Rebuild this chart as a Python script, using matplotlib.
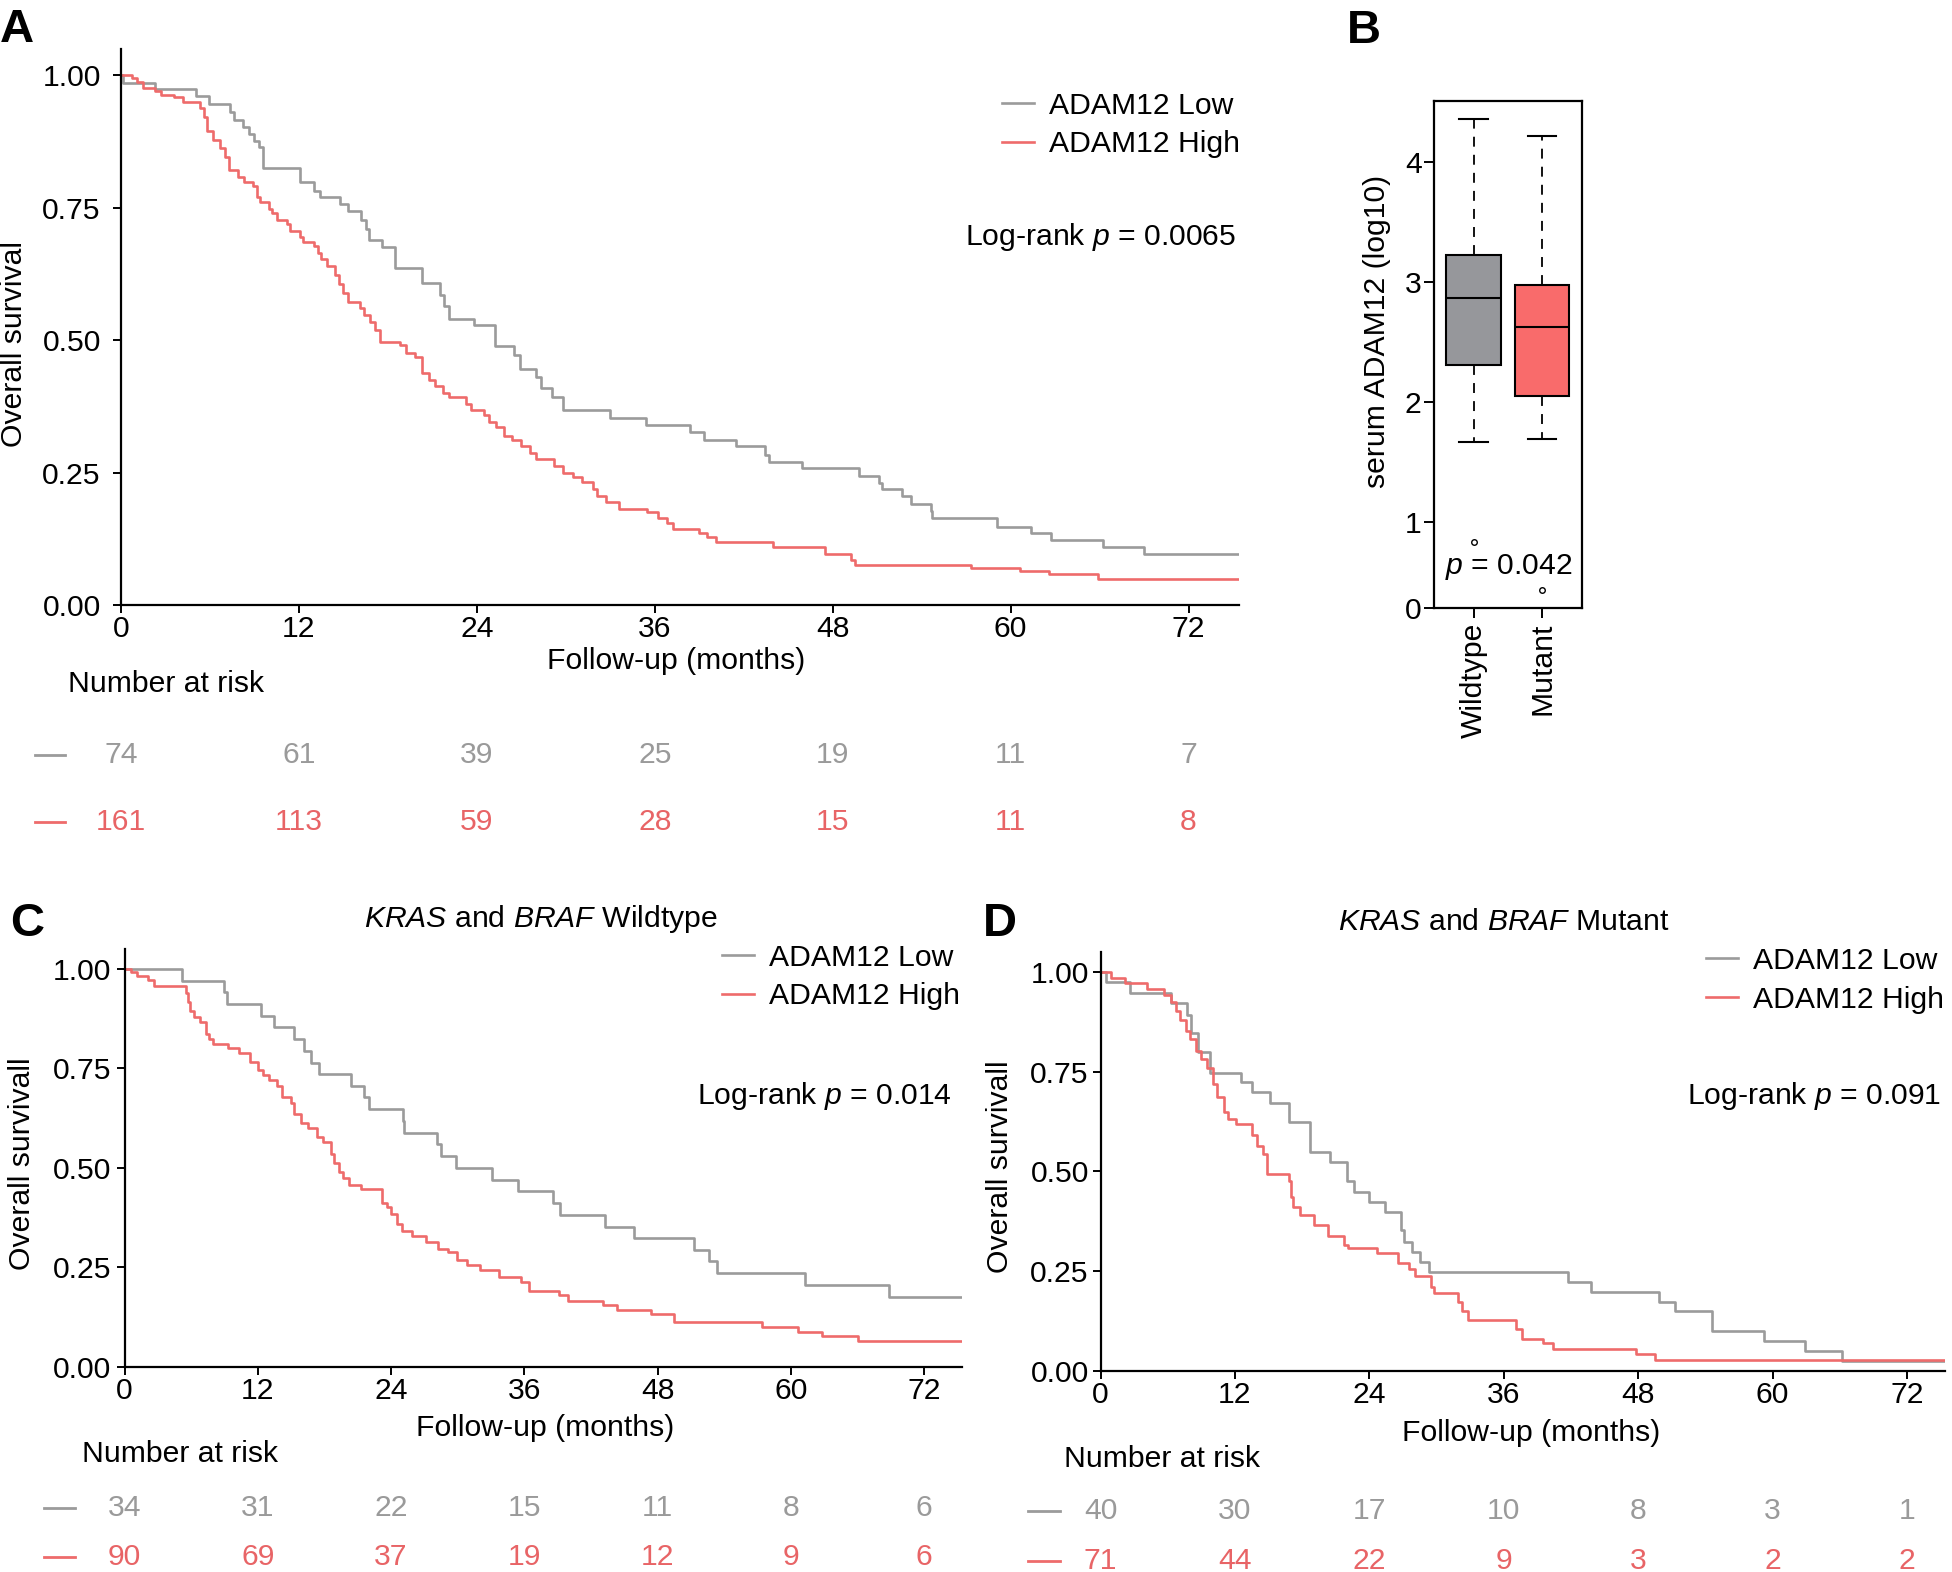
import matplotlib
matplotlib.use("Agg")
import matplotlib.pyplot as plt
from matplotlib.lines import Line2D
from matplotlib import transforms

plt.rcParams['font.family'] = ['Liberation Sans', 'DejaVu Sans']
plt.rcParams['mathtext.fontset'] = 'custom'
plt.rcParams['mathtext.rm'] = 'Liberation Sans'
plt.rcParams['mathtext.it'] = 'Liberation Sans:italic'

# ---------------- data ----------------
months = [0, 12, 24, 36, 48, 60, 72]
x_end = 75.4

# Panel A  (all patients)
a_low_t = [0, 0.15, 2.27, 5.09, 5.94, 7.36, 7.6, 8.2, 8.6, 9.0, 9.3, 9.6, 12.1, 13.0, 13.4,
           14.8, 15.3, 16.2, 16.5, 16.7, 17.6, 18.5, 20.3, 21.5, 21.8, 22.1, 23.8, 25.2, 26.5,
           26.9, 28.0, 28.3, 29.1, 29.8, 33.0, 35.4, 38.4, 39.3, 41.5, 43.4, 43.7, 45.9, 49.8,
           51.1, 51.3, 52.7, 53.3, 54.6, 54.7, 59.1, 61.4, 62.7, 66.2, 69.0, 75.4]
a_low_s = [1.0, 0.985, 0.973, 0.960, 0.945, 0.93, 0.916, 0.901, 0.888, 0.876, 0.864, 0.825, 0.799, 0.782, 0.769,
           0.757, 0.744, 0.727, 0.71, 0.688, 0.675, 0.635, 0.608, 0.585, 0.564, 0.540, 0.528, 0.488, 0.471,
           0.446, 0.430, 0.409, 0.393, 0.367, 0.352, 0.339, 0.326, 0.312, 0.300, 0.283, 0.270, 0.258, 0.244,
           0.231, 0.218, 0.205, 0.190, 0.177, 0.164, 0.148, 0.136, 0.122, 0.109, 0.096, 0.096]
a_high_t = [0, 0.76, 1.06, 1.5, 2.27, 2.7, 3.6, 4.2, 5.3, 5.6, 5.8, 6.2, 6.7, 7.0, 7.3, 7.9, 8.3, 8.9,
            9.2, 9.4, 10.0, 10.2, 10.5, 11.2, 11.4, 12.1, 12.3, 13.0, 13.3, 13.5, 13.9, 14.4, 14.7, 15.0,
            15.3, 16.1, 16.4, 16.8, 17.1, 17.5, 18.8, 19.2, 19.8, 20.3, 20.8, 21.2, 21.7, 22.1, 23.3, 23.6,
            24.5, 24.8, 25.3, 25.8, 26.4, 27.0, 27.6, 28.0, 29.2, 29.8, 30.5, 31.1, 31.8, 32.1, 32.7, 33.6,
            35.5, 36.2, 36.8, 37.2, 39.0, 39.5, 40.1, 44.0, 47.5, 49.2, 49.5, 57.3, 60.6, 62.6, 65.9, 75.4]
a_high_s = [1.0, 0.994, 0.987, 0.975, 0.969, 0.962, 0.958, 0.950, 0.937, 0.920, 0.895, 0.878, 0.862, 0.845, 0.820, 0.807, 0.799, 0.790,
            0.769, 0.761, 0.748, 0.740, 0.727, 0.719, 0.706, 0.694, 0.684, 0.677, 0.664, 0.652, 0.639, 0.622, 0.606, 0.589,
            0.572, 0.560, 0.547, 0.534, 0.518, 0.497, 0.491, 0.476, 0.467, 0.438, 0.425, 0.413, 0.400, 0.392, 0.379, 0.368,
            0.358, 0.346, 0.335, 0.318, 0.312, 0.300, 0.287, 0.276, 0.262, 0.249, 0.241, 0.232, 0.218, 0.206, 0.195, 0.182,
            0.175, 0.164, 0.155, 0.144, 0.136, 0.128, 0.119, 0.109, 0.096, 0.084, 0.076, 0.070, 0.064, 0.058, 0.050, 0.050]
a_risk_low = [74, 61, 39, 25, 19, 11, 7]
a_risk_high = [161, 113, 59, 28, 15, 11, 8]

# Panel B (boxplot stats)
b_groups = ['Wildtype', 'Mutant']
b_whislo = [1.67, 1.69]
b_q1 = [2.31, 2.05]
b_med = [2.87, 2.63]
b_q3 = [3.23, 2.975]
b_whishi = [4.36, 4.22]
b_fliers = [[0.84], [0.44]]
b_ylim = (0.286, 4.51)

# Panel C (KRAS and BRAF wildtype)
c_low_t = [0, 5.2, 9.0, 9.2, 12.3, 13.5, 15.3, 16.2, 16.8, 17.5, 20.4, 21.6, 22.0, 25.1, 25.2,
           28.1, 28.5, 29.8, 33.1, 35.4, 38.6, 39.2, 43.3, 45.9, 51.3, 52.6, 53.3, 61.3, 68.8, 75.4]
c_low_s = [1.0, 0.970, 0.941, 0.911, 0.881, 0.853, 0.823, 0.793, 0.764, 0.736, 0.707, 0.678, 0.649, 0.618, 0.588,
           0.559, 0.529, 0.499, 0.470, 0.441, 0.411, 0.382, 0.352, 0.323, 0.293, 0.266, 0.236, 0.206, 0.177, 0.177]
c_high_t = [0, 0.6, 1.1, 2.1, 2.7, 5.5, 5.7, 5.9, 6.3, 6.8, 7.3, 7.6, 8.0, 9.3, 10.3, 11.3, 12.0, 12.5,
            13.0, 13.7, 14.2, 15.0, 15.3, 15.9, 16.5, 17.3, 17.9, 18.6, 18.9, 19.3, 19.7, 20.2, 21.3, 23.2,
            23.6, 24.0, 24.5, 25.0, 25.9, 27.1, 28.2, 29.1, 29.9, 30.8, 32.0, 33.7, 35.7, 36.4, 39.1, 39.9,
            43.1, 44.3, 47.4, 49.5, 57.4, 60.6, 62.8, 66.0, 75.4]
c_high_s = [1.0, 0.991, 0.983, 0.972, 0.958, 0.939, 0.917, 0.895, 0.878, 0.867, 0.837, 0.823, 0.812, 0.801, 0.790, 0.767, 0.745, 0.734,
            0.720, 0.707, 0.679, 0.662, 0.635, 0.612, 0.601, 0.579, 0.566, 0.535, 0.513, 0.491, 0.474, 0.457, 0.446, 0.413,
            0.402, 0.385, 0.358, 0.341, 0.328, 0.313, 0.297, 0.288, 0.269, 0.255, 0.244, 0.225, 0.214, 0.192, 0.181, 0.166,
            0.155, 0.144, 0.133, 0.114, 0.100, 0.089, 0.078, 0.066, 0.066]
c_risk_low = [34, 31, 22, 15, 11, 8, 6]
c_risk_high = [90, 69, 37, 19, 12, 9, 6]

# Panel D (KRAS and BRAF mutant)
d_low_t = [0, 0.45, 2.6, 6.3, 7.7, 8.1, 8.7, 9.8, 12.5, 13.5, 15.1, 16.8, 18.7, 20.5, 22.0, 22.6,
           24.0, 25.4, 26.8, 27.1, 27.8, 28.5, 29.3, 41.7, 43.8, 49.9, 51.3, 54.6, 59.2, 62.9, 66.2, 75.4]
d_low_s = [1.0, 0.975, 0.947, 0.921, 0.891, 0.847, 0.800, 0.748, 0.723, 0.698, 0.672, 0.623, 0.548, 0.523, 0.475, 0.449,
           0.423, 0.399, 0.354, 0.324, 0.299, 0.274, 0.249, 0.224, 0.199, 0.174, 0.150, 0.100, 0.074, 0.050, 0.025, 0.025]
d_high_t = [0, 0.9, 2.2, 4.1, 5.7, 6.3, 6.7, 7.1, 7.6, 8.0, 8.5, 9.0, 9.5, 10.0, 10.4, 11.0, 11.4, 12.1,
            13.5, 14.0, 14.5, 14.9, 16.8, 17.0, 17.2, 17.8, 19.1, 20.3, 21.7, 22.1, 24.7, 26.6, 27.5, 28.1,
            29.5, 29.8, 31.9, 32.3, 32.8, 37.1, 37.6, 39.5, 40.4, 47.8, 49.5, 75.4]
d_high_s = [1.0, 0.986, 0.972, 0.958, 0.941, 0.925, 0.902, 0.880, 0.853, 0.831, 0.803, 0.781, 0.759, 0.720, 0.687, 0.648, 0.631, 0.620,
            0.592, 0.565, 0.543, 0.493, 0.476, 0.437, 0.410, 0.391, 0.365, 0.338, 0.316, 0.308, 0.296, 0.271, 0.255, 0.238,
            0.210, 0.196, 0.172, 0.150, 0.127, 0.105, 0.081, 0.070, 0.055, 0.042, 0.027, 0.027]
d_risk_low = [40, 30, 17, 10, 8, 3, 1]
d_risk_high = [71, 44, 22, 9, 3, 2, 2]

# ---------------- style ----------------
GRAY = '#9b9b9b'
RED = '#ee6b6b'
GRAY_TXT = '#9a9a9a'
RED_TXT = '#e86466'
BOX_GRAY = '#96979b'
BOX_RED = '#f96b6b'
FS = 21.7

W, H = 1952, 1572
fig = plt.figure(figsize=(W / 100, H / 100), dpi=100)


def fx(x):
    return x / W


def fy(y):
    return 1 - y / H


def axes_px(left, top, right, bottom):
    return fig.add_axes([left / W, 1 - bottom / H, (right - left) / W, (bottom - top) / H])


def ftext(x, y, s, **kw):
    kw.setdefault('fontsize', FS)
    return fig.text(fx(x), fy(y), s, **kw)


def km_panel(ax, lt, ls, ht, hs, legend_xy, logrank, logrank_xy, ypad=4):
    ax.step(lt, ls, where='post', color=GRAY, lw=1.9, label='ADAM12 Low')
    ax.step(ht, hs, where='post', color=RED, lw=1.9, label='ADAM12 High')
    ax.set_xlim(0, x_end)
    ax.set_ylim(0, 1.05)
    ax.set_xticks(months)
    ax.set_xticklabels([str(m) for m in months])
    ax.set_yticks([0, 0.25, 0.5, 0.75, 1.0])
    ax.set_yticklabels(['0.00', '0.25', '0.50', '0.75', '1.00'])
    for s in ['top', 'right']:
        ax.spines[s].set_visible(False)
    for s in ['left', 'bottom']:
        ax.spines[s].set_linewidth(1.6)
    ax.tick_params(axis='both', direction='out', length=5.5, width=1.4, labelsize=FS, colors='black')
    ax.tick_params(axis='x', pad=2)
    ax.tick_params(axis='y', pad=ypad)
    ax.legend(loc='upper left', bbox_to_anchor=(fx(legend_xy[0]), fy(legend_xy[1])),
              bbox_transform=fig.transFigure, frameon=False, fontsize=FS,
              handlelength=1.05, handletextpad=0.5, labelspacing=0.36, borderpad=0, borderaxespad=0)
    ftext(logrank_xy[0], logrank_xy[1], logrank, ha='right', va='center')


def risk_table(ax, low, high, y_low, y_high, dash_x):
    tr = transforms.blended_transform_factory(ax.transData, fig.transFigure)
    for t, n in zip(months, low):
        ax.text(t, fy(y_low), str(n), transform=tr, ha='center', va='center',
                fontsize=FS, color=GRAY_TXT, clip_on=False)
    for t, n in zip(months, high):
        ax.text(t, fy(y_high), str(n), transform=tr, ha='center', va='center',
                fontsize=FS, color=RED_TXT, clip_on=False)
    fig.add_artist(Line2D([fx(dash_x[0]), fx(dash_x[1])], [fy(y_low), fy(y_low)],
                          transform=fig.transFigure, color=GRAY, lw=2))
    fig.add_artist(Line2D([fx(dash_x[0]), fx(dash_x[1])], [fy(y_high), fy(y_high)],
                          transform=fig.transFigure, color=RED, lw=2))


# ---------------- Panel A ----------------
axA = axes_px(121, 48.5, 1239, 605)
km_panel(axA, a_low_t, a_low_s, a_high_t, a_high_s, (1002, 91.5),
         'Log-rank $p$ = 0.0065', (1236, 237), ypad=9)
ftext(676, 661, 'Follow-up (months)', ha='center', va='center')
ftext(14, 344, 'Overall survival', ha='center', va='center', rotation=90)
ftext(68, 684, 'Number at risk', ha='left', va='center')
risk_table(axA, a_risk_low, a_risk_high, 755, 822, (35, 65))
ftext(0, 42, 'A', fontsize=34, fontweight='bold', ha='left', va='baseline')

# ---------------- Panel B ----------------
axB = axes_px(1434, 101, 1582, 608)
stats = []
for i, g in enumerate(b_groups):
    stats.append(dict(label=g, whislo=b_whislo[i], q1=b_q1[i], med=b_med[i], q3=b_q3[i],
                      whishi=b_whishi[i], fliers=b_fliers[i]))
bp = axB.bxp(stats, positions=[1, 2], widths=0.8, patch_artist=True, capwidths=0.42,
             boxprops=dict(edgecolor='black', linewidth=1.5),
             medianprops=dict(color='black', linewidth=1.5),
             whiskerprops=dict(color='black', linewidth=1.3, linestyle=(0, (5.5, 4.5))),
             capprops=dict(color='black', linewidth=1.5),
             flierprops=dict(marker='o', markerfacecolor='none', markeredgecolor='black',
                             markersize=4, markeredgewidth=1.0))
for patch, c in zip(bp['boxes'], [BOX_GRAY, BOX_RED]):
    patch.set_facecolor(c)
axB.set_xlim(0.417, 2.586)
axB.set_ylim(*b_ylim)
axB.set_yticks([b_ylim[0], 1, 2, 3, 4])
axB.set_yticklabels(['0', '1', '2', '3', '4'])
axB.set_xticks([1, 2])
axB.set_xticklabels(b_groups, rotation=90)
for s in axB.spines.values():
    s.set_linewidth(1.6)
axB.tick_params(axis='both', direction='out', length=7, width=1.4, labelsize=FS)
axB.tick_params(axis='y', pad=2)
axB.text(1.52, 0.63, '$p$ = 0.042', ha='center', va='center', fontsize=FS)
ftext(1377, 331, 'serum ADAM12 (log10)', ha='center', va='center', rotation=90)
ftext(1347, 43, 'B', fontsize=34, fontweight='bold', ha='left', va='baseline')

# ---------------- Panel C ----------------
axC = axes_px(124.5, 949, 962, 1367)
km_panel(axC, c_low_t, c_low_s, c_high_t, c_high_s, (722, 943.5),
         'Log-rank $p$ = 0.014', (952, 1096))
ftext(545, 1428, 'Follow-up (months)', ha='center', va='center')
ftext(22, 1164, 'Overall survivall', ha='center', va='center', rotation=90)
ftext(82, 1454, 'Number at risk', ha='left', va='center')
ftext(541, 919, r'$\mathit{KRAS}$ and $\mathit{BRAF}$ Wildtype', ha='center', va='center')
risk_table(axC, c_risk_low, c_risk_high, 1508, 1557, (44, 75))
ftext(10, 936, 'C', fontsize=34, fontweight='bold', ha='left', va='baseline')

# ---------------- Panel D ----------------
axD = axes_px(1100.6, 952, 1945, 1371)
km_panel(axD, d_low_t, d_low_s, d_high_t, d_high_s, (1706, 947),
         'Log-rank $p$ = 0.091', (1941, 1096), ypad=3)
ftext(1531, 1433, 'Follow-up (months)', ha='center', va='center')
ftext(1000, 1167, 'Overall survivall', ha='center', va='center', rotation=90)
ftext(1064, 1459, 'Number at risk', ha='left', va='center')
ftext(1504, 922, r'$\mathit{KRAS}$ and $\mathit{BRAF}$ Mutant', ha='center', va='center')
risk_table(axD, d_risk_low, d_risk_high, 1511, 1561, (1028, 1060))
ftext(983, 936, 'D', fontsize=34, fontweight='bold', ha='left', va='baseline')

fig.savefig('out.png', dpi=100)
